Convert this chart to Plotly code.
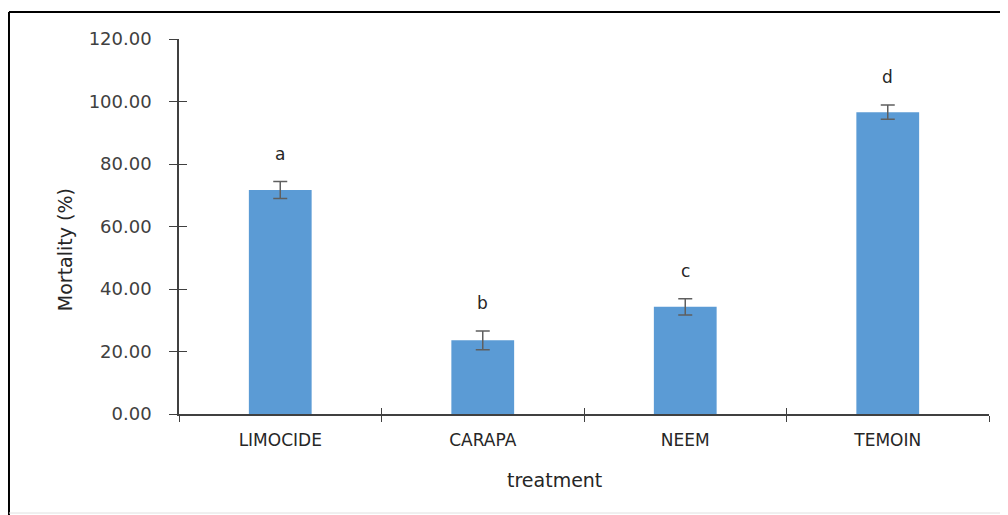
import plotly.graph_objects as go

categories = ["LIMOCIDE", "CARAPA", "NEEM", "TEMOIN"]
mortality = [71.7, 23.6, 34.3, 96.6]
errors = [2.7, 3.0, 2.6, 2.3]
letters = ["a", "b", "c", "d"]
y_ticks = [0, 20, 40, 60, 80, 100, 120]
x_title = "treatment"
y_title = "Mortality (%)"

AXIS_COL = "#404040"
FONT = "DejaVu Sans"

fig = go.Figure()
fig.add_trace(go.Bar(
    x=categories, y=mortality,
    marker=dict(color="#5B9BD5", line=dict(width=0)),
    width=0.31,
    error_y=dict(type="data", array=errors, visible=True,
                 color="#5f5f5f", thickness=1.5, width=7),
    showlegend=False,
))
# helper trace for inside tick marks (crossing ticks)
fig.add_trace(go.Scatter(x=[None], y=[None], xaxis="x2", yaxis="y2",
                         showlegend=False, hoverinfo="skip"))

for c, v, e, l in zip(categories, mortality, errors, letters):
    fig.add_annotation(x=c, y=v + e, text=l, showarrow=False, yshift=28,
                       font=dict(family=FONT, size=17, color="#262626"))

# axis titles (placed as in the reference, off-centre)
fig.add_annotation(xref="paper", yref="paper", x=0.463, y=-0.176,
                   xanchor="center", yanchor="middle",
                   text=x_title, showarrow=False,
                   font=dict(family=FONT, size=19, color="#262626"))
fig.add_annotation(xref="paper", yref="paper", x=-0.1407, y=0.437,
                   xanchor="center", yanchor="middle",
                   text=y_title, showarrow=False, textangle=-90,
                   font=dict(family=FONT, size=19, color="#262626"))

# frame decoration
fig.add_shape(type="line", xref="paper", yref="paper", x0=-0.2099, x1=-0.2099,
              y0=-0.27, y1=1.072, line=dict(color="black", width=2))
fig.add_shape(type="line", xref="paper", yref="paper", x0=-0.2099, x1=1.03,
              y0=1.072, y1=1.072, line=dict(color="black", width=2))
fig.add_shape(type="line", xref="paper", yref="paper", x0=-0.2099, x1=1.03,
              y0=-0.264, y1=-0.264, line=dict(color="#e0e0e0", width=1))

fig.update_layout(
    width=1000, height=507,
    margin=dict(l=171, r=19, t=31, b=101),
    paper_bgcolor="white", plot_bgcolor="white",
    font=dict(family=FONT, color=AXIS_COL),
    xaxis=dict(
        type="category", categoryorder="array", categoryarray=categories,
        range=[-0.5, 3.5],
        showline=True, linecolor=AXIS_COL, linewidth=1.5,
        ticks="outside", tickson="boundaries", ticklen=6, tickwidth=1.2,
        tickcolor=AXIS_COL, ticklabelstandoff=10,
        tickfont=dict(family=FONT, size=17, color="#262626"),
        showgrid=False, zeroline=False,
    ),
    yaxis=dict(
        range=[0, 120], tickvals=y_ticks, tickformat=".2f",
        showline=True, linecolor=AXIS_COL, linewidth=1.5,
        ticks="outside", ticklen=8, tickwidth=1.2, tickcolor=AXIS_COL,
        ticklabelstandoff=14,
        tickfont=dict(family=FONT, size=18, color="#404040"),
        showgrid=False, zeroline=False,
    ),
    xaxis2=dict(overlaying="x", range=[-0.5, 3.5],
                tickvals=[-0.5, 0.5, 1.5, 2.5, 3.5], ticks="inside",
                ticklen=6, tickwidth=1.2, tickcolor=AXIS_COL,
                showticklabels=False, showgrid=False, zeroline=False,
                showline=False),
    yaxis2=dict(overlaying="y", range=[0, 120], tickvals=y_ticks,
                ticks="inside", ticklen=8, tickwidth=1.2, tickcolor=AXIS_COL,
                showticklabels=False, showgrid=False, zeroline=False,
                showline=False),
)

fig.write_html("out.html")
